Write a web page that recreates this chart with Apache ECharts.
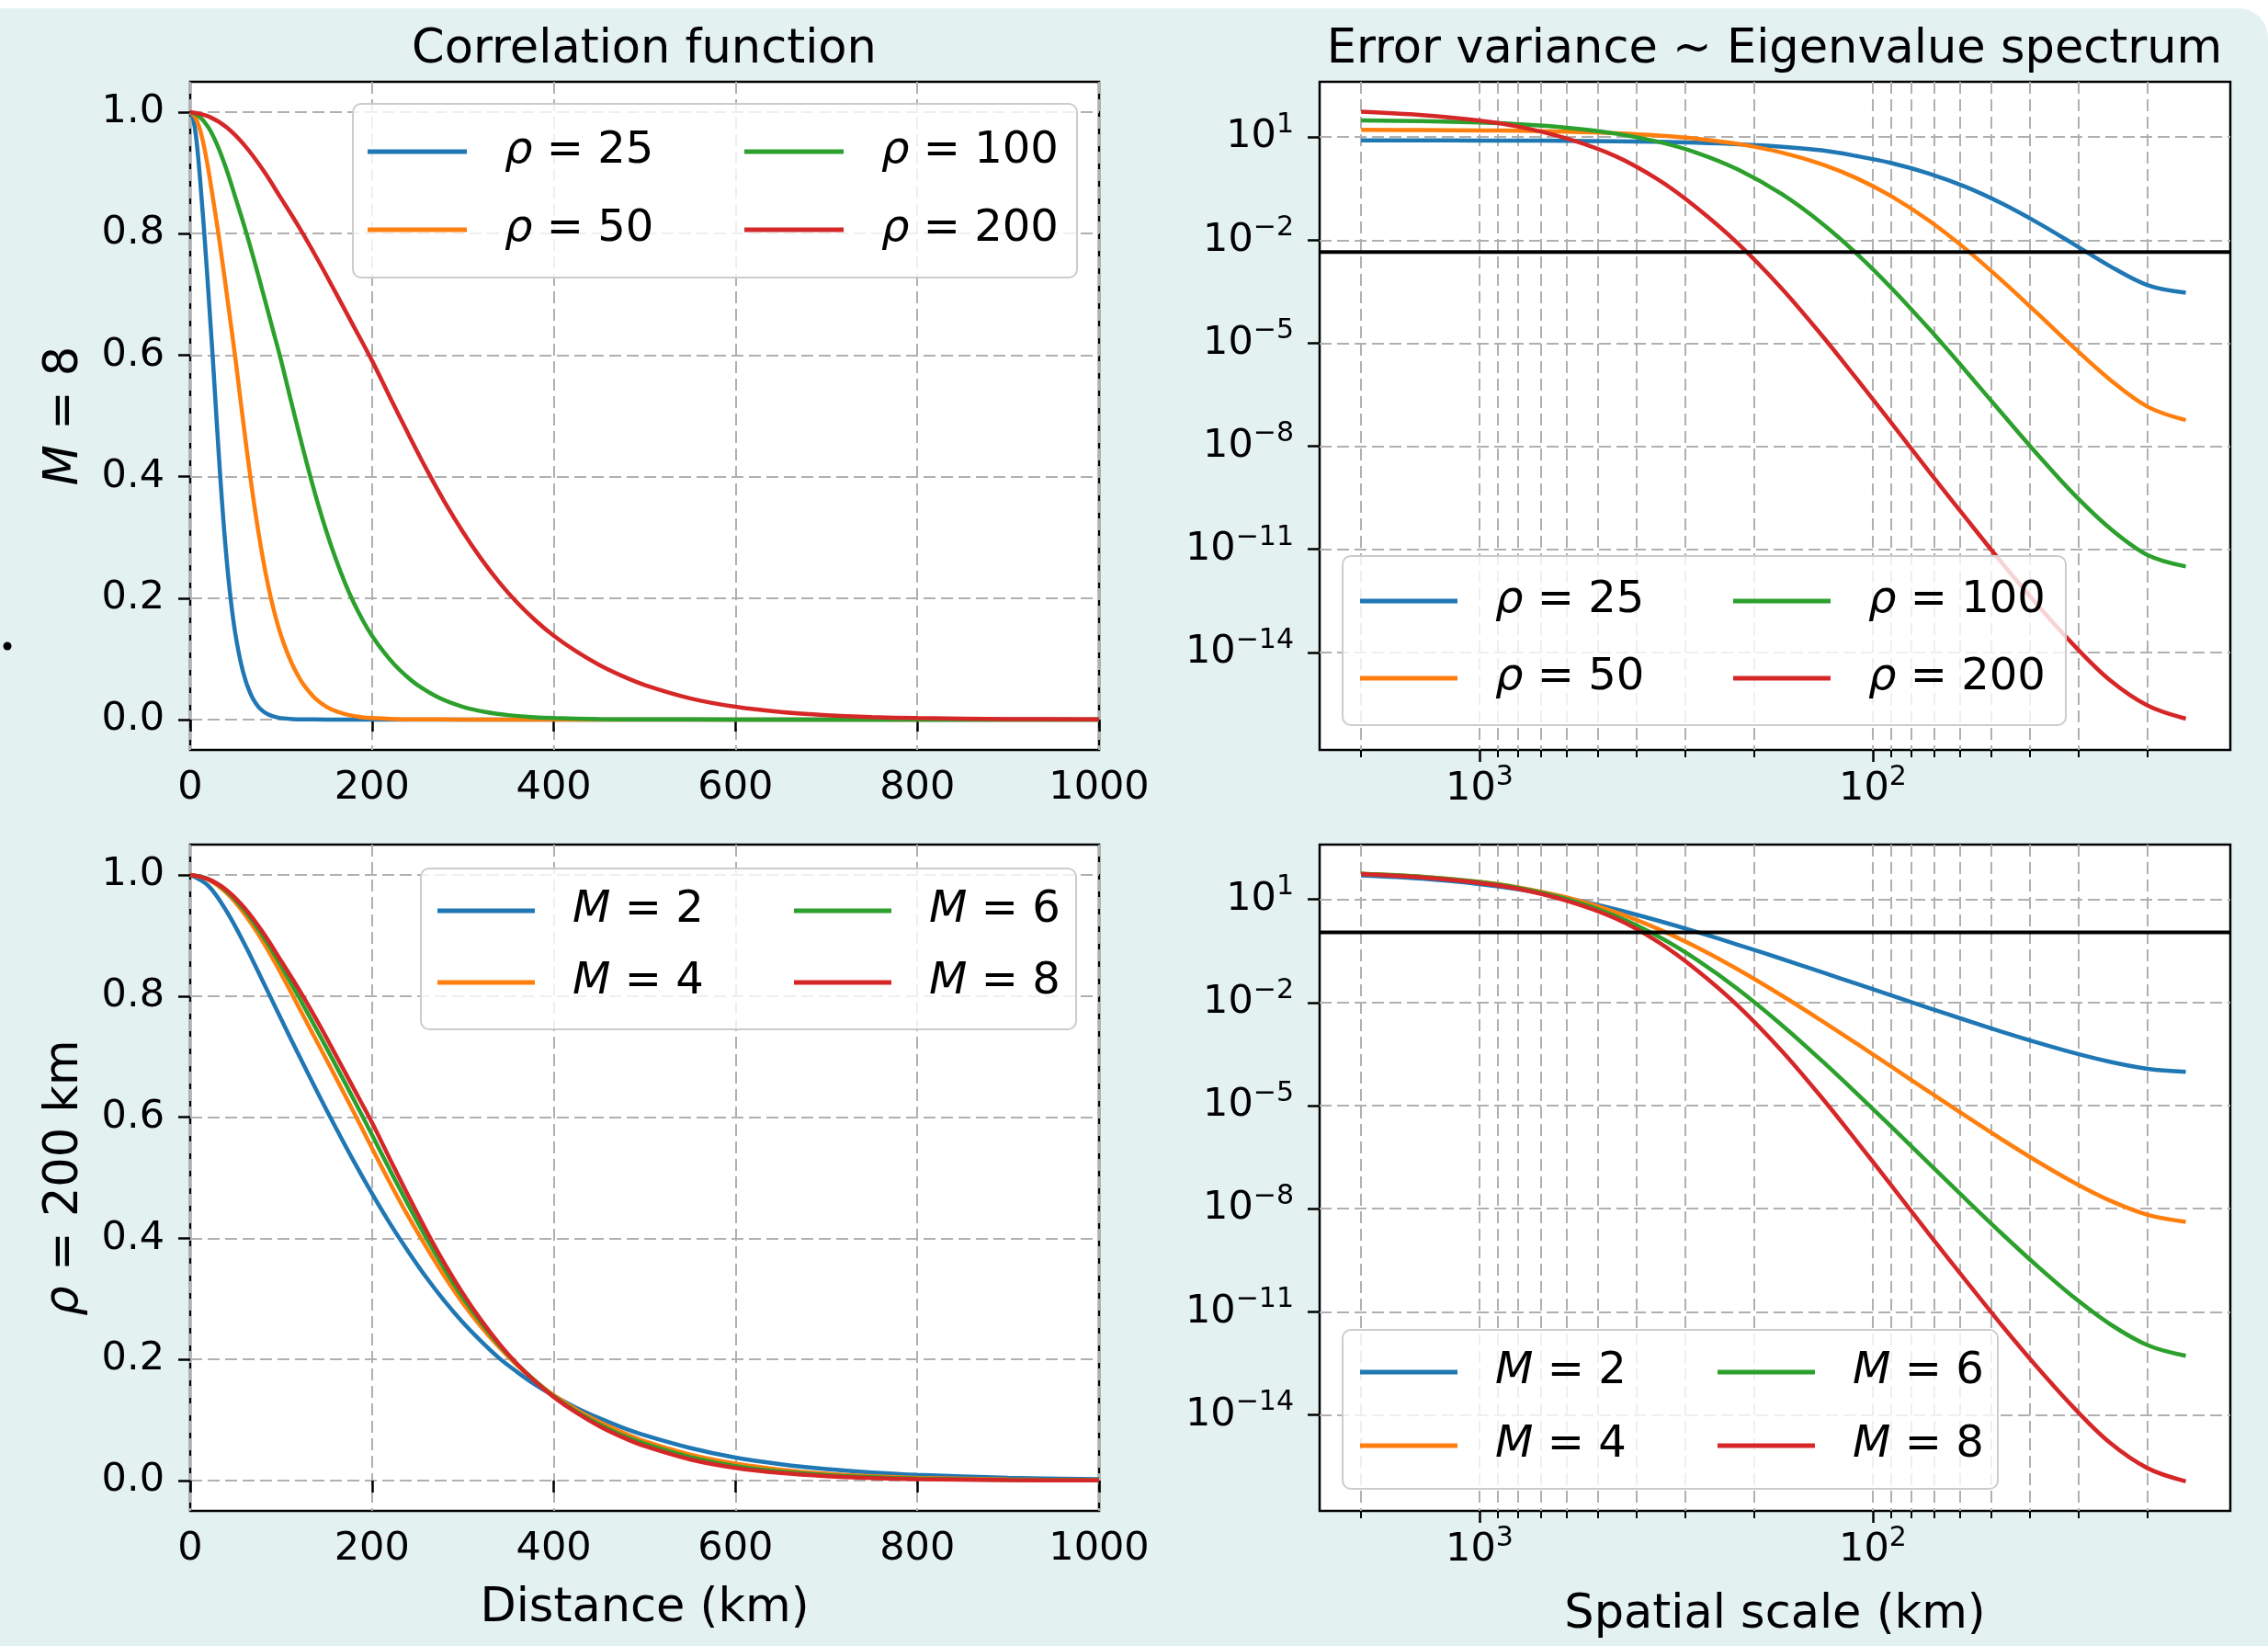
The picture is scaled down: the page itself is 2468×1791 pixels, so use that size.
<!DOCTYPE html>
<html>
<head>
<meta charset="utf-8">
<script src="https://cdn.jsdelivr.net/npm/echarts@6/dist/echarts.min.js"></script>
<style>
html,body{margin:0;padding:0;background:#ffffff;}
#chart{width:2468px;height:1791px;}
</style>
</head>
<body>
<div id="chart"></div>
<script>
// ---------------- DATA ----------------
// Top-left: correlation functions for M = 8, several rho (km)
const corrRho25X = [0,2.5,5,7.5,10,12.5,15,17.5,20,22.5,25,27.5,30,32.5,35,37.5,40,42.5,45,47.5,50,53.125,56.25,59.375,62.5,68.75,75,81.25,87.5,93.75,100,112.5,125,150,1000];
const corrRho25Y = [1.000,0.993,0.975,0.945,0.905,0.858,0.810,0.758,0.703,0.647,0.591,0.530,0.470,0.412,0.358,0.309,0.265,0.226,0.192,0.163,0.138,0.112,0.090,0.072,0.057,0.035,0.021,0.0125,0.0073,0.0042,0.0024,0.0008,0.0003,0.0001,0];
const corrRho50X = [0,5,10,15,20,25,30,35,40,45,50,55,60,65,70,75,80,85,90,95,100,106.25,112.5,118.75,125,137.5,150,162.5,175,187.5,200,225,250,300,1000];
const corrRho50Y = [1.000,0.993,0.975,0.945,0.905,0.858,0.810,0.758,0.703,0.647,0.591,0.530,0.470,0.412,0.358,0.309,0.265,0.226,0.192,0.163,0.138,0.112,0.090,0.072,0.057,0.035,0.021,0.0125,0.0073,0.0042,0.0024,0.0008,0.0003,0.0001,0];
const corrRho100X = [0,10,20,30,40,50,60,70,80,90,100,110,120,130,140,150,160,170,180,190,200,212.5,225,237.5,250,275,300,325,350,375,400,450,500,600,1000];
const corrRho100Y = [1.000,0.993,0.975,0.945,0.905,0.858,0.810,0.758,0.703,0.647,0.591,0.530,0.470,0.412,0.358,0.309,0.265,0.226,0.192,0.163,0.138,0.112,0.090,0.072,0.057,0.035,0.021,0.0125,0.0073,0.0042,0.0024,0.0008,0.0003,0.0001,0];
const corrRho200X = [0,20,40,60,80,100,120,140,160,180,200,220,240,260,280,300,320,340,360,380,400,425,450,475,500,550,600,650,700,750,800,900,1000];
const corrRho200Y = [1.000,0.993,0.975,0.945,0.905,0.858,0.810,0.758,0.703,0.647,0.591,0.530,0.470,0.412,0.358,0.309,0.265,0.226,0.192,0.163,0.138,0.112,0.090,0.072,0.057,0.035,0.021,0.0125,0.0073,0.0042,0.0024,0.0008,0.0003];

// Bottom-left: correlation functions for rho = 200 km, several M (x = corrRho200X)
const corrM2Y = [1.000,0.982,0.940,0.885,0.824,0.762,0.701,0.641,0.583,0.527,0.474,0.424,0.378,0.335,0.296,0.261,0.230,0.202,0.179,0.158,0.140,0.120,0.103,0.088,0.075,0.054,0.038,0.027,0.019,0.0135,0.0095,0.0047,0.0023];
const corrM4Y = [1.000,0.992,0.970,0.935,0.890,0.837,0.780,0.723,0.666,0.608,0.549,0.491,0.436,0.385,0.337,0.293,0.254,0.220,0.190,0.164,0.141,0.117,0.097,0.080,0.065,0.043,0.028,0.018,0.0115,0.0073,0.0046,0.0018,0.0007];
const corrM6Y = [1.000,0.993,0.973,0.941,0.899,0.850,0.797,0.742,0.686,0.629,0.571,0.512,0.455,0.400,0.349,0.302,0.261,0.224,0.192,0.164,0.139,0.114,0.093,0.075,0.061,0.039,0.024,0.015,0.0093,0.0056,0.0033,0.0012,0.0004];
const corrM8Y = [1.000,0.993,0.975,0.945,0.905,0.858,0.810,0.758,0.703,0.647,0.591,0.530,0.470,0.412,0.358,0.309,0.265,0.226,0.192,0.163,0.138,0.112,0.090,0.072,0.057,0.035,0.021,0.0125,0.0073,0.0042,0.0024,0.0008,0.0003];

// Right column: error variance spectra. Spatial scale (km) and log10 of the variance read at each scale
const specScale = [2000,1400,1000,800,600,450,350,280,220,170,135,110,90,72,58,47,38,31,25,20,16];
const specRho25Exp  = [0.906,0.904,0.901,0.898,0.892,0.880,0.862,0.837,0.794,0.721,0.616,0.45,0.25,-0.06,-0.45,-0.93,-1.50,-2.10,-2.75,-3.31,-3.53];
const specRho50Exp  = [1.212,1.206,1.196,1.184,1.158,1.113,1.047,0.955,0.802,0.549,0.214,-0.194,-0.711,-1.430,-2.262,-3.172,-4.148,-5.10,-6.05,-6.85,-7.24];
const specRho100Exp = [1.488,1.466,1.424,1.376,1.275,1.103,0.861,0.543,0.055,-0.665,-1.500,-2.388,-3.374,-4.576,-5.809,-7.035,-8.257,-9.367,-10.38,-11.17,-11.50];
const specRho200Exp = [1.74,1.64,1.48,1.31,0.96,0.44,-0.25,-1.06,-2.10,-3.42,-4.76,-6.03,-7.30,-8.73,-10.09,-11.39,-12.64,-13.76,-14.80,-15.55,-15.93];
const specM2Exp = [1.70,1.603,1.445,1.294,1.036,0.709,0.376,0.052,-0.321,-0.735,-1.115,-1.456,-1.790,-2.160,-2.513,-2.848,-3.171,-3.458,-3.722,-3.929,-4.016];
const specM4Exp = [1.745,1.660,1.511,1.354,1.056,0.625,0.131,-0.395,-1.043,-1.805,-2.529,-3.194,-3.855,-4.595,-5.306,-5.982,-6.637,-7.219,-7.757,-8.177,-8.38];
const specM6Exp = [1.745,1.659,1.505,1.338,1.010,0.513,-0.088,-0.759,-1.618,-2.666,-3.688,-4.640,-5.600,-6.680,-7.725,-8.722,-9.689,-10.552,-11.349,-11.971,-12.28];
const specM8Exp = [1.74,1.64,1.48,1.31,0.96,0.44,-0.25,-1.06,-2.10,-3.42,-4.76,-6.03,-7.30,-8.73,-10.09,-11.39,-12.64,-13.76,-14.80,-15.55,-15.93];

// Horizontal black reference lines
const thresholdTop = 4.5e-3;
const thresholdBottom = 1.1;

// Tick values / axis limits
const corrYTicks = [0,0.2,0.4,0.6,0.8,1.0];
const specXMajorTicks = [1000,100];
const specXMinorTicks = [2000,900,800,700,600,500,400,300,200,90,80,70,60,50,40,30,20];
const specYTicks = [1e1,1e-2,1e-5,1e-8,1e-11,1e-14];
const specXMin = 12.33, specXMax = 2550;

const rhoNames = ['ρ = 25','ρ = 50','ρ = 100','ρ = 200'];
const mNames = ['M = 2','M = 4','M = 6','M = 8'];
const titles = ['Correlation function','Error variance ~ Eigenvalue spectrum'];

// ---------------- CHART ----------------
const FONT = 'DejaVu Sans';
const COLORS = ['#1f77b4','#ff7f0e','#2ca02c','#d62728'];
const GRID_LINE = {color:'#b0b0b0', width:2, type:[13,6]};
const TICK = {show:true, length:13, lineStyle:{color:'#000', width:2.5}};

const chart = echarts.init(document.getElementById('chart'), null, {renderer:'canvas', width:2468, height:1791});

function pairs(xs, ys){ return xs.map((x,i)=>[x, ys[i]]); }
function specPairs(es){ return specScale.map((s,i)=>[s, Math.pow(10, es[i])]); }
function pow10Label(v){
  const e = Math.round(Math.log10(v));
  return '{b|10}{s|' + String(e).replace('-', '\u2212') + '}';
}
const richX = {
  b:{fontFamily:FONT, fontSize:43, lineHeight:56, color:'#000'},
  s:{fontFamily:FONT, fontSize:30, lineHeight:24, verticalAlign:'top', color:'#000'}
};
const richY = {
  b:{fontFamily:FONT, fontSize:43, lineHeight:56, color:'#000'},
  s:{fontFamily:FONT, fontSize:30, lineHeight:34, verticalAlign:'top', color:'#000'}
};
const nameStyle = {fontFamily:FONT, fontSize:51, color:'#000', rich:{i:{fontFamily:FONT, fontSize:51, fontStyle:'italic', color:'#000'}}};

function linearX(gi, name){
  const a = {type:'value', gridIndex:gi, min:0, max:1000, interval:200,
    axisLine:{show:false}, axisTick:TICK,
    axisLabel:{fontFamily:FONT, fontSize:43, color:'#000', margin:20, formatter:v=>String(v)},
    splitLine:{show:true, lineStyle:GRID_LINE}};
  if (name){ Object.assign(a, {name:name, nameLocation:'middle', nameGap:81, nameTextStyle:nameStyle}); }
  return a;
}
function linearY(gi, name){
  return {type:'value', gridIndex:gi, min:-0.05, max:1.05,
    axisLine:{show:false},
    axisTick:Object.assign({customValues:corrYTicks}, TICK),
    axisLabel:{customValues:corrYTicks, formatter:v=>Number(v).toFixed(1), fontFamily:FONT, fontSize:43, color:'#000', margin:28},
    splitLine:{show:true, lineStyle:GRID_LINE},
    name:name, nameLocation:'middle', nameGap:111, nameRotate:90, nameTextStyle:nameStyle};
}
function logXMajor(gi, name){
  const a = {type:'log', logBase:10, gridIndex:gi, position:'bottom', min:specXMin, max:specXMax, inverse:true,
    axisLine:{show:false},
    axisTick:Object.assign({customValues:specXMajorTicks}, TICK),
    axisLabel:{customValues:specXMajorTicks, formatter:pow10Label, rich:richX, margin:15},
    splitLine:{show:true, lineStyle:GRID_LINE}};
  if (name){ Object.assign(a, {name:name, nameLocation:'middle', nameGap:88, nameTextStyle:nameStyle}); }
  return a;
}
function logXMinor(gi){
  return {type:'log', logBase:10, gridIndex:gi, position:'bottom', offset:0, min:specXMin, max:specXMax, inverse:true,
    axisLine:{show:false},
    axisTick:{show:true, length:8, customValues:specXMinorTicks, lineStyle:{color:'#000', width:2}},
    axisLabel:{show:false},
    splitLine:{show:true, lineStyle:GRID_LINE}};
}
function logY(gi, lo, hi){
  return {type:'log', logBase:10, gridIndex:gi, min:lo, max:hi,
    axisLine:{show:false},
    axisTick:Object.assign({customValues:specYTicks}, TICK),
    axisLabel:{customValues:specYTicks, formatter:pow10Label, rich:richY, margin:28},
    splitLine:{show:true, lineStyle:GRID_LINE}};
}

function lineSeries(name, color, xi, yi, data){
  return {type:'line', name:name, xAxisIndex:xi, yAxisIndex:yi, data:data,
    symbol:'none', smooth:0.35, clip:true, animation:false,
    lineStyle:{color:color, width:4.5}, itemStyle:{color:color}, z:3};
}
function thresholdSeries(xi, yi, value){
  return {type:'line', name:'threshold', xAxisIndex:xi, yAxisIndex:yi,
    data:[[specXMax, value],[specXMin, value]],
    symbol:'none', smooth:false, clip:true, animation:false, silent:true,
    lineStyle:{color:'#000', width:4}, itemStyle:{color:'#000'}, z:4};
}

function legendText(name){
  const p = name.split(' = ');
  return '{g| }{i|' + p[0] + '}{n| = ' + p[1] + '}';
}
const legendRich = {
  g:{width:36, fontFamily:FONT, fontSize:48, lineHeight:40},
  i:{fontFamily:FONT, fontSize:48, fontStyle:'italic', lineHeight:40, color:'#000'},
  n:{fontFamily:FONT, fontSize:48, lineHeight:40, color:'#000'}
};
function makeLegend(names, left, top, itemWidth, itemGap, padding, boxed){
  const l = {data:names, orient:'vertical', left:left, top:top, icon:'rect',
    itemWidth:itemWidth, itemHeight:5, itemGap:itemGap, selectedMode:false,
    formatter:legendText, padding:padding, z:10,
    textStyle:{fontFamily:FONT, fontSize:48, color:'#000', lineHeight:40, width:200, rich:legendRich}};
  if (boxed){ Object.assign(l, {backgroundColor:'rgba(255,255,255,0.8)', borderColor:'#cccccc', borderWidth:2, borderRadius:9}); }
  return l;
}

const gridBase = {show:true, backgroundColor:'#ffffff', borderColor:'#000', borderWidth:2.5, containLabel:false, outerBoundsMode:'none'};

const option = {
  animation:false,
  backgroundColor:'#ffffff',
  graphic:[
    {type:'rect', silent:true, z:-100, shape:{x:0, y:9, width:2468, height:1782, r:[0,32,0,0]}, style:{fill:'#e3f1f0'}},
    {type:'circle', silent:true, z:-90, shape:{cx:8, cy:703, r:4.5}, style:{fill:'#000'}}
  ],
  title:[
    {text:titles[0], left:701, top:29, textAlign:'center', padding:0, textStyle:{fontFamily:FONT, fontSize:51, fontWeight:'normal', color:'#000'}},
    {text:titles[1], left:1931, top:29, textAlign:'center', padding:0, textStyle:{fontFamily:FONT, fontSize:51, fontWeight:'normal', color:'#000'}}
  ],
  grid:[
    Object.assign({left:207, top:89, width:989, height:727}, gridBase),
    Object.assign({left:1436, top:89, width:991, height:727}, gridBase),
    Object.assign({left:207, top:919, width:989, height:725}, gridBase),
    Object.assign({left:1436, top:919, width:991, height:725}, gridBase)
  ],
  xAxis:[
    linearX(0),
    logXMajor(1),
    logXMinor(1),
    linearX(2, 'Distance (km)'),
    logXMajor(3, 'Spatial scale (km)'),
    logXMinor(3)
  ],
  yAxis:[
    linearY(0, '{i|M} = 8'),
    logY(1, Math.pow(10,-16.84), Math.pow(10,2.611)),
    linearY(2, '{i|ρ} = 200 km'),
    logY(3, Math.pow(10,-16.79), Math.pow(10,2.594))
  ],
  legend:[
    makeLegend([rhoNames[0], rhoNames[1]], 384, 113, 108, 37, [28,459,28,16], true),
    makeLegend([rhoNames[2], rhoNames[3]], 810, 141, 108, 37, 0, false),
    makeLegend([rhoNames[0], rhoNames[1]], 1461, 605, 106, 36, [25,457,27,19], true),
    makeLegend([rhoNames[2], rhoNames[3]], 1886, 630, 106, 36, 0, false),
    makeLegend([mNames[0], mNames[1]], 458, 945, 106, 30, [22,384,27,18], true),
    makeLegend([mNames[2], mNames[3]], 864, 967, 106, 30, 0, false),
    makeLegend([mNames[0], mNames[1]], 1461, 1447, 106, 32, [22,383,23,19], true),
    makeLegend([mNames[2], mNames[3]], 1869, 1469, 106, 32, 0, false)
  ],
  series:[
    lineSeries(rhoNames[0], COLORS[0], 0, 0, pairs(corrRho25X, corrRho25Y)),
    lineSeries(rhoNames[1], COLORS[1], 0, 0, pairs(corrRho50X, corrRho50Y)),
    lineSeries(rhoNames[2], COLORS[2], 0, 0, pairs(corrRho100X, corrRho100Y)),
    lineSeries(rhoNames[3], COLORS[3], 0, 0, pairs(corrRho200X, corrRho200Y)),

    lineSeries(rhoNames[0], COLORS[0], 1, 1, specPairs(specRho25Exp)),
    lineSeries(rhoNames[1], COLORS[1], 1, 1, specPairs(specRho50Exp)),
    lineSeries(rhoNames[2], COLORS[2], 1, 1, specPairs(specRho100Exp)),
    lineSeries(rhoNames[3], COLORS[3], 1, 1, specPairs(specRho200Exp)),
    thresholdSeries(1, 1, thresholdTop),

    lineSeries(mNames[0], COLORS[0], 3, 2, pairs(corrRho200X, corrM2Y)),
    lineSeries(mNames[1], COLORS[1], 3, 2, pairs(corrRho200X, corrM4Y)),
    lineSeries(mNames[2], COLORS[2], 3, 2, pairs(corrRho200X, corrM6Y)),
    lineSeries(mNames[3], COLORS[3], 3, 2, pairs(corrRho200X, corrM8Y)),

    lineSeries(mNames[0], COLORS[0], 4, 3, specPairs(specM2Exp)),
    lineSeries(mNames[1], COLORS[1], 4, 3, specPairs(specM4Exp)),
    lineSeries(mNames[2], COLORS[2], 4, 3, specPairs(specM6Exp)),
    lineSeries(mNames[3], COLORS[3], 4, 3, specPairs(specM8Exp)),
    thresholdSeries(4, 3, thresholdBottom)
  ]
};
chart.setOption(option);
</script>
</body>
</html>
